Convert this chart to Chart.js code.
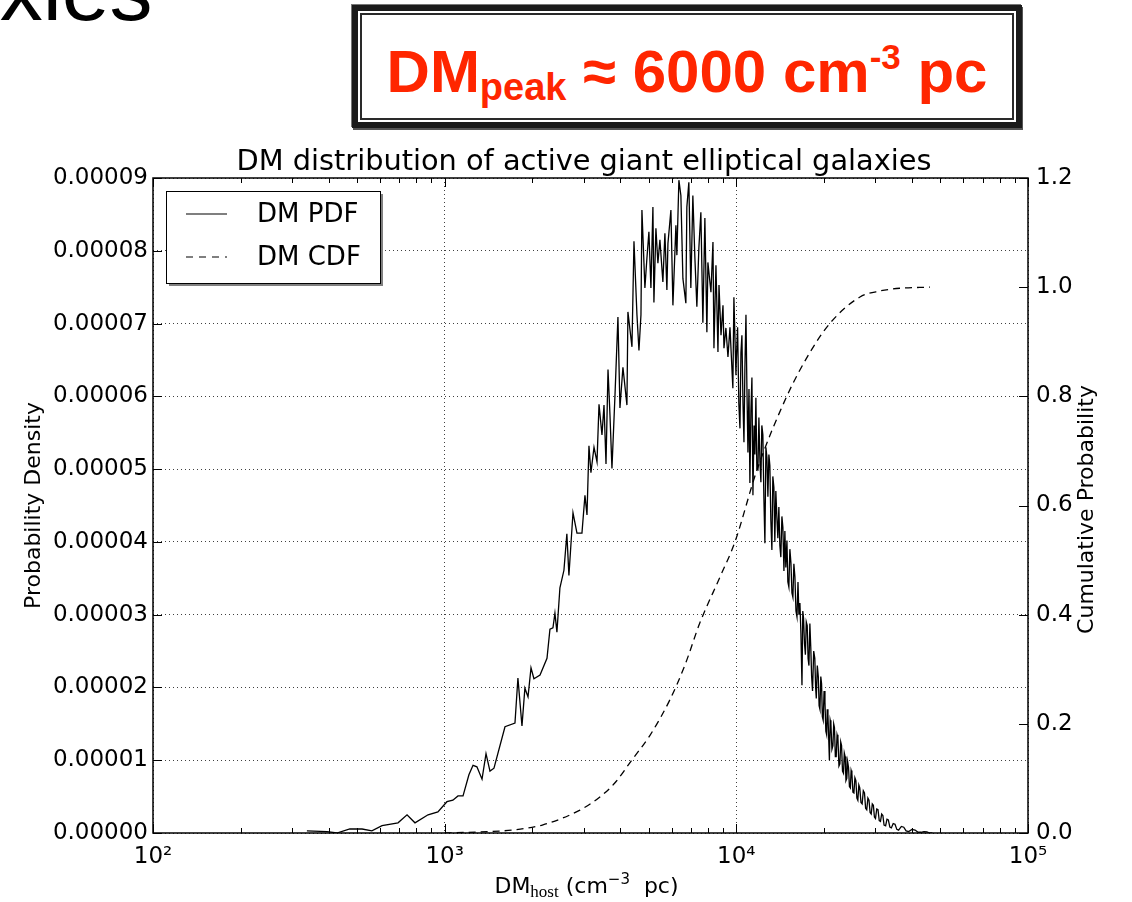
<!DOCTYPE html>
<html>
<head>
<meta charset="utf-8">
<title>DM distribution of active giant elliptical galaxies</title>
<script src="https://cdn.jsdelivr.net/npm/chart.js@4.4.0/dist/chart.umd.min.js"></script>
<style>
    html, body { margin: 0; padding: 0; background: #fff; overflow: hidden; }
    #wrap { position: relative; width: 1132px; height: 902px; overflow: hidden; }
    #chart { position: absolute; left: 0; top: 0; }
    .slide-title {
        position: absolute; left: -182px; top: -53px;
        font-family: 'Liberation Sans', Arial, sans-serif;
        font-size: 86px; line-height: 1; color: #000; white-space: nowrap;
    }
    .peak-box {
        position: absolute; left: 352px; top: 5px; width: 670px; height: 123px;
        box-sizing: border-box; background: #fff;
        border: 6px solid #1b1b1b;
        box-shadow: inset 0 0 0 2px #fff, inset 0 0 0 4px #2a2a2a, 1px 2px 0 #555, -1px -1px 0 #777;
    }
    .peak-text {
        position: absolute; left: 0; right: 0; top: 31px;
        text-align: center; white-space: nowrap;
        font-family: 'Liberation Sans', Arial, sans-serif; font-weight: bold;
        font-size: 60px; line-height: 1; color: #ff2600;
    }
    .peak-text .sub { font-size: 38px; position: relative; top: 8px; }
    .peak-text .sup { font-size: 35px; position: relative; top: -23px; }
</style>
</head>
<body>
<div id="wrap">
    <div class="slide-title">Galaxies</div>
    <div class="peak-box">
        <div class="peak-text">DM<span class="sub">peak</span> ≈ 6000 cm<span class="sup">-3</span> pc</div>
    </div>
    <canvas id="chart" width="1132" height="902"></canvas>
</div>

<script>
// --- datos ---

// PDF (densidad de probabilidad, en unidades de 1e-5)
const pdfDM = [
    337, 395, 427, 473, 521, 563, 610, 692, 743, 791, 877, 948,
    1018, 1067, 1111, 1156, 1211, 1251, 1290, 1343, 1386, 1430, 1476, 1610,
    1742, 1783, 1841, 1884, 1931, 1977, 2023, 2123, 2243, 2296, 2351, 2388,
    2426, 2484, 2564, 2624, 2667, 2754, 2842, 2956, 3027, 3076, 3124, 3173,
    3251, 3329, 3382, 3462, 3518, 3574, 3631, 3688, 3746, 3837, 3927, 3990,
    4085, 4216, 4249, 4387, 4457, 4563, 4636, 4710, 4746, 4859, 4937, 5015,
    5095, 5176, 5217, 5300, 5384, 5470, 5600, 5690, 5780, 5828, 5966, 6061,
    6206, 6254, 6354, 6455, 6558, 6714, 6766, 6874, 6983, 7095, 7208, 7323,
    7440, 7558, 7679, 7801, 7926, 7989, 8184, 8315, 8380, 8514, 8650, 8720,
    8860, 9000, 9070, 9210, 9360, 9510, 9730, 9810, 9970,
    10000, 10100, 10200, 10290, 10370, 10450, 10540, 10620, 10700, 10790, 10870, 10960,
    11050, 11130, 11220, 11310, 11400, 11500, 11580, 11670, 11760, 11860, 11950, 12050,
    12140, 12230, 12330, 12430, 12530, 12630, 12730, 12830, 12930, 13030, 13130, 13240,
    13340, 13450, 13550, 13660, 13770, 13880, 13990, 14100, 14210, 14330, 14440, 14560,
    14670, 14780, 14910, 15020, 15140, 15260, 15390, 15510, 15630, 15750, 15880, 16010,
    16140, 16270, 16390, 16520, 16650, 16790, 16900, 17000, 17130, 17250, 17370, 17500,
    17620, 17740, 17870, 18000, 18120, 18250, 18420, 18580, 18700, 18800, 18950, 19100,
    19220, 19350, 19480, 19600, 19720, 19850, 19990, 20130, 20270, 20400, 20500, 20610,
    20850, 20980, 21100, 21270, 21440, 21570, 21700, 21850, 22000, 22150, 22300, 22480,
    22650, 22800, 22950, 23120, 23300, 23450, 23600, 23760, 23920, 24080, 24250, 24420,
    24600, 24750, 24900, 25100, 25300, 25500, 25700, 25900, 26100, 26300, 26500, 26750,
    27000, 27250, 27500, 27750, 28000, 28250, 28500, 28750, 29000, 29250, 29500, 29750,
    30000, 30300, 30600, 30900, 31200, 31500, 31800, 32100, 32500, 32850, 33200, 33600,
    34000, 34500, 35000, 35500, 36000, 36800, 37500, 38200, 39000, 40000, 41000, 42000,
    43000, 44000, 45000, 46000, 47000
];
const pdfDensity = [
    0.03, 0.02, 0.00, 0.055, 0.055, 0.03, 0.10, 0.14, 0.25, 0.14, 0.25, 0.29,
    0.43, 0.45, 0.51, 0.51, 0.80, 0.93, 0.91, 0.74, 1.09, 0.85, 0.89, 1.46,
    1.51, 2.13, 1.47, 1.99, 1.87, 2.27, 2.12, 2.17, 2.40, 2.80, 2.82, 3.02,
    2.76, 3.37, 3.61, 4.11, 3.54, 4.40, 4.12, 4.12, 4.64, 4.37, 5.32, 4.95,
    5.30, 5.10, 5.89, 5.47, 5.88, 5.07, 6.37, 5.74, 5.01, 6.02, 7.09, 5.84,
    6.40, 5.88, 7.16, 6.68, 8.13, 7.12, 6.63, 7.12, 8.56, 7.49, 7.90, 8.26,
    7.49, 8.60, 7.29, 8.31, 7.83, 8.15, 7.57, 8.24, 7.46, 8.10, 8.56, 7.25,
    8.35, 7.94, 8.97, 8.76, 7.62, 7.28, 8.60, 8.94, 7.49, 8.76, 7.91, 7.23,
    8.04, 8.53, 7.01, 8.45, 6.88, 7.84, 7.43, 8.12, 6.66, 7.80, 6.61, 7.53,
    6.84, 7.25, 6.66, 6.94, 6.54, 6.95, 6.11, 7.36, 6.29,
    6.50, 6.95, 5.90, 5.56, 6.60, 6.84, 5.90, 5.37, 6.40, 7.12, 6.13, 5.23,
    6.10, 4.81, 5.80, 6.26, 4.64, 5.60, 5.20, 5.98, 5.00, 4.99, 5.71, 5.10,
    4.82, 5.60, 5.47, 4.60, 3.98, 5.30, 5.16, 4.62, 5.20, 5.05, 4.30, 3.89,
    4.90, 4.75, 4.00, 4.70, 4.34, 4.05, 4.48, 3.95, 3.79, 4.35, 4.20, 3.60,
    4.15, 3.65, 4.02, 3.45, 3.38, 3.90, 3.71, 3.30, 3.24, 3.70, 3.52, 3.05,
    2.97, 3.45, 3.00, 3.16, 2.75, 2.03, 3.05, 2.95, 2.60, 2.45, 2.90, 2.85,
    2.40, 2.30, 2.88, 2.55, 2.15, 1.95, 2.50, 2.40, 2.00, 1.85, 2.30, 2.15,
    1.75, 1.70, 2.15, 2.05, 1.60, 1.55, 1.95, 1.80, 1.40, 1.35, 1.70, 1.62,
    1.00, 1.55, 1.50, 1.15, 1.20, 1.50, 1.45, 1.05, 1.05, 1.35, 1.30, 0.92,
    0.95, 1.25, 1.20, 0.85, 0.82, 1.10, 1.05, 0.72, 0.75, 0.98, 0.90, 0.64,
    0.62, 0.86, 0.82, 0.56, 0.55, 0.76, 0.72, 0.48, 0.45, 0.66, 0.62, 0.42,
    0.40, 0.58, 0.55, 0.34, 0.32, 0.48, 0.45, 0.28, 0.26, 0.40, 0.38, 0.22,
    0.20, 0.33, 0.32, 0.17, 0.16, 0.26, 0.24, 0.11, 0.10, 0.19, 0.18, 0.08,
    0.07, 0.13, 0.12, 0.05, 0.04, 0.09, 0.08, 0.03, 0.02, 0.05, 0.04, 0.01,
    0.01, 0.02, 0.015, 0.00, 0.00
];

// CDF (probabilidad acumulada)
const cdfDM = [1000, 1321, 1715, 2173, 2910, 3406, 3837, 4387, 5058, 5917, 6668,
               7499, 8790, 9886, 11770, 14890, 17860, 20950, 26540, 31060, 36380, 46100];
const cdfProb = [0, 0.002, 0.0055, 0.015, 0.042, 0.066, 0.092, 0.134, 0.179, 0.244, 0.308,
                 0.385, 0.469, 0.533, 0.665, 0.80, 0.88, 0.934, 0.982, 0.993, 0.998, 1.0];

// ejes
const xTickValues = [100, 1000, 10000, 100000];
const xTickLabels = ['10²', '10³', '10⁴', '10⁵'];
const leftTickStep = 0.00001;
const leftMax = 0.00009;
const rightTickStep = 0.2;
const rightMax = 1.2;

const FONT = '"DejaVu Sans", Verdana, sans-serif';

// dibuja marco, ticks hacia dentro, leyenda y textos (estilo matplotlib)
const decorPlugin = {
    id: 'decor',
    afterDraw(chart) {
        const ctx = chart.ctx;
        const a = chart.chartArea;
        const xs = chart.scales.x;
        const ys = chart.scales.y;
        const y2 = chart.scales.y2;

        ctx.save();

        // Leyenda
        const lx = a.left + 13, ly = a.top + 13, lw = 214, lh = 92;
        ctx.fillStyle = '#808080';
        ctx.fillRect(lx + 3, ly + 3, lw, lh);
        ctx.fillStyle = '#fff';
        ctx.fillRect(lx, ly, lw, lh);
        ctx.strokeStyle = '#000';
        ctx.lineWidth = 1;
        ctx.strokeRect(lx + 0.5, ly + 0.5, lw, lh);

        ctx.lineWidth = 1.2;
        ctx.beginPath();
        ctx.moveTo(lx + 20, ly + 23);
        ctx.lineTo(lx + 61, ly + 23);
        ctx.stroke();
        ctx.setLineDash([7, 6]);
        ctx.beginPath();
        ctx.moveTo(lx + 20, ly + 66);
        ctx.lineTo(lx + 61, ly + 66);
        ctx.stroke();
        ctx.setLineDash([]);

        ctx.fillStyle = '#000';
        ctx.font = '26px ' + FONT;
        ctx.textAlign = 'left';
        ctx.textBaseline = 'middle';
        ctx.fillText(chart.data.datasets[0].label, lx + 91, ly + 24);
        ctx.fillText(chart.data.datasets[1].label, lx + 91, ly + 67);

        // Marco
        ctx.lineWidth = 1.5;
        ctx.strokeRect(a.left, a.top, a.right - a.left, a.bottom - a.top);

        // Ticks hacia dentro
        ctx.lineWidth = 1;
        ctx.beginPath();
        xTickValues.forEach((v, i) => {
            const px = Math.round(xs.getPixelForValue(v)) + 0.5;
            ctx.moveTo(px, a.bottom); ctx.lineTo(px, a.bottom - 9);
            ctx.moveTo(px, a.top); ctx.lineTo(px, a.top + 9);
            if (i < xTickValues.length - 1) {
                for (let k = 2; k <= 9; k++) {
                    const pm = Math.round(xs.getPixelForValue(v * k)) + 0.5;
                    ctx.moveTo(pm, a.bottom); ctx.lineTo(pm, a.bottom - 5);
                    ctx.moveTo(pm, a.top); ctx.lineTo(pm, a.top + 5);
                }
            }
        });
        ys.ticks.forEach(t => {
            const py = Math.round(ys.getPixelForValue(t.value)) + 0.5;
            ctx.moveTo(a.left, py); ctx.lineTo(a.left + 9, py);
        });
        y2.ticks.forEach(t => {
            const py = Math.round(y2.getPixelForValue(t.value)) + 0.5;
            ctx.moveTo(a.right, py); ctx.lineTo(a.right - 9, py);
        });
        ctx.stroke();

        // Titulo
        ctx.font = '28.8px ' + FONT;
        ctx.textAlign = 'center';
        ctx.textBaseline = 'alphabetic';
        ctx.fillText('DM distribution of active giant elliptical galaxies', 584, a.top - 8);

        // Titulos de ejes Y
        ctx.font = '22px ' + FONT;
        ctx.textBaseline = 'middle';
        ctx.save();
        ctx.translate(34, (a.top + a.bottom) / 2);
        ctx.rotate(-Math.PI / 2);
        ctx.fillText('Probability Density', 0, 0);
        ctx.restore();
        ctx.save();
        ctx.translate(a.right + 59, (a.top + a.bottom) / 2 + 4);
        ctx.rotate(-Math.PI / 2);
        ctx.fillText('Cumulative Probability', 0, 0);
        ctx.restore();

        // Titulo eje X: DM_host (cm^-3 pc)
        const partes = [
            { t: 'DM', f: '22px ' + FONT, dy: 0 },
            { t: 'host', f: '17px "Liberation Serif", "DejaVu Serif", serif', dy: 4 },
            { t: ' (cm', f: '22px ' + FONT, dy: 0 },
            { t: '−3', f: '15px ' + FONT, dy: -9 },
            { t: '  pc)', f: '22px ' + FONT, dy: 0 }
        ];
        let total = 0;
        partes.forEach(p => { ctx.font = p.f; p.w = ctx.measureText(p.t).width; total += p.w; });
        let cx = (a.left + a.right) / 2 - 4 - total / 2;
        ctx.textAlign = 'left';
        ctx.textBaseline = 'alphabetic';
        partes.forEach(p => {
            ctx.font = p.f;
            ctx.fillText(p.t, cx, 893 + p.dy);
            cx += p.w;
        });

        ctx.restore();
    }
};

const ctx = document.getElementById('chart').getContext('2d');
new Chart(ctx, {
    type: 'line',
    data: {
        datasets: [
            {
                label: 'DM PDF',
                data: pdfDM.map((x, i) => ({ x: x, y: pdfDensity[i] * 1e-5 })),
                borderColor: '#000',
                borderWidth: 1.3,
                pointRadius: 0,
                tension: 0,
                fill: false,
                yAxisID: 'y'
            },
            {
                label: 'DM CDF',
                data: cdfDM.map((x, i) => ({ x: x, y: cdfProb[i] })),
                borderColor: '#000',
                borderWidth: 1.3,
                borderDash: [7, 5],
                pointRadius: 0,
                cubicInterpolationMode: 'monotone',
                fill: false,
                yAxisID: 'y2'
            }
        ]
    },
    options: {
        responsive: false,
        animation: false,
        devicePixelRatio: 1,
        layout: {
            padding: { top: 178, left: 0, right: 0, bottom: 0 }
        },
        plugins: {
            legend: { display: false },
            title: { display: false },
            tooltip: { enabled: false }
        },
        scales: {
            x: {
                type: 'logarithmic',
                position: 'bottom',
                min: 100,
                max: 100000,
                afterBuildTicks: scale => {
                    scale.ticks = xTickValues.map(v => ({ value: v }));
                },
                afterFit: scale => { scale.height = 69; },
                ticks: {
                    autoSkip: false,
                    maxRotation: 0,
                    padding: 10,
                    color: '#000',
                    font: { size: 23, family: FONT },
                    callback: (v, i) => xTickLabels[i]
                },
                grid: {
                    color: 'rgba(0,0,0,0.75)',
                    lineWidth: 1,
                    drawTicks: false
                },
                border: { display: false, dash: [1, 3] }
            },
            y: {
                position: 'left',
                min: 0,
                max: leftMax,
                afterFit: scale => { scale.width = 153; },
                ticks: {
                    stepSize: leftTickStep,
                    padding: 5,
                    color: '#000',
                    font: { size: 23, family: FONT },
                    callback: v => v.toFixed(5)
                },
                grid: {
                    color: 'rgba(0,0,0,0.75)',
                    lineWidth: 1,
                    drawTicks: false
                },
                border: { display: false, dash: [1, 3] }
            },
            y2: {
                position: 'right',
                min: 0,
                max: rightMax,
                afterFit: scale => { scale.width = 104; },
                ticks: {
                    stepSize: rightTickStep,
                    padding: 8,
                    color: '#000',
                    font: { size: 23, family: FONT },
                    callback: v => v.toFixed(1)
                },
                grid: { display: false, drawTicks: false },
                border: { display: false }
            }
        }
    },
    plugins: [decorPlugin]
});
</script>
</body>
</html>
